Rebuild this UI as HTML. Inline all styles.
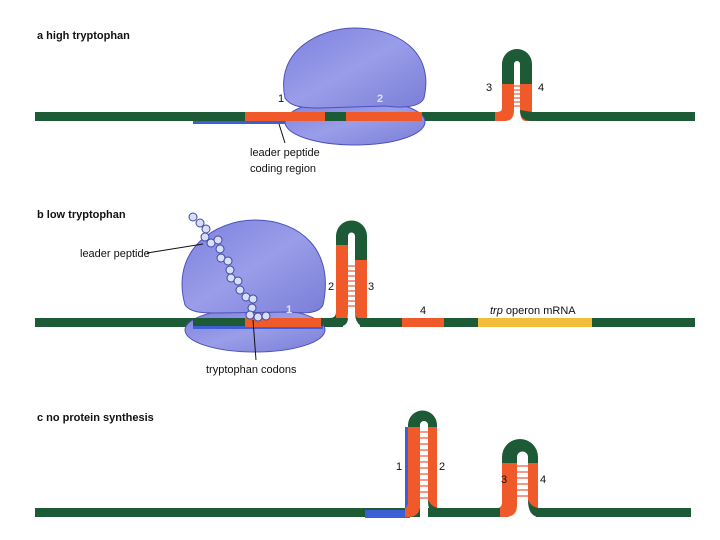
<!DOCTYPE html>
<html><head><meta charset="utf-8"><style>
body{margin:0;background:#fff}
svg{display:block}
text{font-family:"Liberation Sans",sans-serif;font-size:11px;fill:#111}
.h{font-weight:bold;font-size:11px}
</style></head><body>
<svg width="720" height="540" viewBox="0 0 720 540">
<defs>
<linearGradient id="rb" x1="0" y1="0" x2="1" y2="1">
<stop offset="0" stop-color="#7c80df"/><stop offset="0.5" stop-color="#9a9de8"/><stop offset="1" stop-color="#7a7ed8"/>
</linearGradient>
</defs>
<!-- Panel a -->
<text x="37" y="39" class="h">a  high tryptophan</text>
<rect x="193" y="116" width="133" height="8" fill="#3c5fd6"/>
<rect x="35" y="112" width="470" height="9" fill="#1d5a36"/>
<rect x="532" y="112" width="163" height="9" fill="#1d5a36"/>
<ellipse cx="355" cy="122" rx="70" ry="23" fill="url(#rb)" stroke="#4e52b8" stroke-width="1"/>
<path d="M285 98 C275 50 320 28 355 28 C395 28 435 50 424 98 C420 108 400 108 385 106 L320 108 C300 108 290 106 285 98Z" fill="url(#rb)" stroke="#4e52b8" stroke-width="1"/>
<rect x="245" y="112" width="80" height="9" fill="#f05a2a"/>
<rect x="346" y="112" width="76" height="9" fill="#f05a2a"/>
<rect x="325" y="112" width="21" height="9" fill="#1d5a36"/>
<!-- hairpin 3-4 -->
<path d="M495 121 L505 121 Q514 121 514 110 L514 84 L502 84 L502 108 Q502 112 497 112 L495 112Z" fill="#f05a2a"/>
<path d="M532 121 L526 121 Q520 121 520 110 L520 84 L532 84Z" fill="#f05a2a"/>
<path d="M520 110 Q520 121 532 121 L532 112 Q532 112 532 112Z" fill="#1d5a36"/>
<path d="M502 84 L502 64 A15 15 0 0 1 532 64 L532 84 L520 84 L520 64 A3 3 0 0 0 514 64 L514 84Z" fill="#1d5a36"/>
<g stroke="#e8583a" stroke-width="1.2"><line x1="514" y1="86" x2="520" y2="86"/><line x1="514" y1="90" x2="520" y2="90"/><line x1="514" y1="94" x2="520" y2="94"/><line x1="514" y1="98" x2="520" y2="98"/><line x1="514" y1="102" x2="520" y2="102"/><line x1="514" y1="106" x2="520" y2="106"/></g>
<text x="278" y="102">1</text>
<text x="377" y="102" style="fill:#dfe0ff;font-weight:bold">2</text>
<text x="486" y="91">3</text>
<text x="538" y="91">4</text>
<line x1="279" y1="124" x2="285" y2="143" stroke="#111" stroke-width="1"/>
<text x="250" y="156">leader peptide</text>
<text x="250" y="172">coding region</text>

<!-- Panel b -->
<text x="37" y="218" class="h">b  low tryptophan</text>
<rect x="35" y="318" width="308" height="9" fill="#1d5a36"/>
<rect x="360" y="318" width="335" height="9" fill="#1d5a36"/>
<ellipse cx="255" cy="330" rx="70" ry="22" fill="url(#rb)" stroke="#4e52b8" stroke-width="1"/>
<path d="M185 305 C170 250 215 220 255 220 C300 220 335 250 323 305 C318 315 300 313 290 312 L215 313 C200 313 190 312 185 305Z" fill="url(#rb)" stroke="#4e52b8" stroke-width="1"/>
<rect x="193" y="318" width="130" height="9" fill="#1d5a36"/>
<rect x="193" y="326" width="130" height="3" fill="#3c5fd6"/>
<rect x="245" y="318" width="76" height="9" fill="#f05a2a"/>
<text x="286" y="313" style="fill:#dfe0ff;font-weight:bold">1</text>
<!-- hairpin 2-3 -->
<path d="M336 245 L348 245 L348 312 Q348 327 336 327 L330 327 L330 318 Q336 318 336 312Z" fill="#f05a2a"/>
<path d="M330 318 Q336 318 336 312 L336 318 L348 318 Q348 327 336 327 L330 327Z" fill="#1d5a36"/>
<path d="M355 260 L367 260 L367 318 L360 318 Q355 318 355 312Z" fill="#f05a2a"/>
<path d="M355 312 Q355 327 367 327 L372 327 L372 318 L367 318 Q360 318 360 318 Q355 318 355 312Z" fill="#1d5a36"/>
<path d="M336 245 L336 236 A15 15 0 0 1 367 236 L367 260 L355 260 L355 236 A3 3 0 0 0 348 236 L348 245Z" fill="#1d5a36"/>
<g stroke="#e8583a" stroke-width="1.2"><line x1="348" y1="266" x2="355" y2="266"/><line x1="348" y1="271" x2="355" y2="271"/><line x1="348" y1="276" x2="355" y2="276"/><line x1="348" y1="281" x2="355" y2="281"/><line x1="348" y1="286" x2="355" y2="286"/><line x1="348" y1="291" x2="355" y2="291"/><line x1="348" y1="296" x2="355" y2="296"/><line x1="348" y1="301" x2="355" y2="301"/><line x1="348" y1="306" x2="355" y2="306"/></g>
<text x="328" y="290">2</text>
<text x="368" y="290">3</text>
<rect x="402" y="318" width="42" height="9" fill="#f05a2a"/>
<text x="420" y="314">4</text>
<rect x="478" y="318" width="114" height="9" fill="#f2bd3a"/>
<text x="490" y="314"><tspan font-style="italic">trp</tspan> operon mRNA</text>
<!-- beads -->
<g fill="#d8def8" stroke="#3f4aa0" stroke-width="1">
<circle cx="193" cy="217" r="4"/><circle cx="200" cy="223" r="4"/><circle cx="206" cy="229" r="4"/><circle cx="205" cy="237" r="4"/><circle cx="211" cy="243" r="4"/><circle cx="218" cy="240" r="4"/><circle cx="220" cy="249" r="4"/><circle cx="221" cy="258" r="4"/><circle cx="228" cy="261" r="4"/><circle cx="230" cy="270" r="4"/><circle cx="231" cy="278" r="4"/><circle cx="238" cy="281" r="4"/><circle cx="240" cy="290" r="4"/><circle cx="246" cy="297" r="4"/><circle cx="253" cy="299" r="4"/><circle cx="252" cy="308" r="4"/><circle cx="250" cy="315" r="4"/><circle cx="258" cy="317" r="4"/><circle cx="266" cy="316" r="4"/>
</g>
<line x1="147" y1="253" x2="203" y2="244" stroke="#111" stroke-width="1"/>
<text x="80" y="257">leader peptide</text>
<line x1="253" y1="320" x2="256" y2="360" stroke="#111" stroke-width="1"/>
<text x="206" y="373">tryptophan codons</text>

<!-- Panel c -->
<text x="37" y="421" class="h">c  no protein synthesis</text>
<rect x="35" y="508" width="385" height="9" fill="#1d5a36"/>
<rect x="428" y="508" width="80" height="9" fill="#1d5a36"/>
<rect x="536" y="508" width="155" height="9" fill="#1d5a36"/>
<rect x="365" y="510" width="45" height="8" fill="#3c5fd6"/>
<rect x="405" y="427" width="4" height="85" fill="#3c5fd6"/>
<path d="M408 427 L420 427 L420 505 Q420 517 408 517 L405 517 L405 508 Q408 508 408 500Z" fill="#f05a2a"/>
<path d="M428 427 L437 427 L437 508 Q428 508 428 500Z" fill="#f05a2a"/>
<path d="M428 500 Q428 517 440 517 L440 508 Q432 508 428 500Z" fill="#1d5a36"/>
<path d="M408 427 L408 425 A14.5 14.5 0 0 1 437 425 L437 427 L428 427 L428 425 A4 4 0 0 0 420 425 L420 427Z" fill="#1d5a36"/>
<g stroke="#e8583a" stroke-width="1.2"><line x1="420" y1="432" x2="428" y2="432"/><line x1="420" y1="438" x2="428" y2="438"/><line x1="420" y1="444" x2="428" y2="444"/><line x1="420" y1="450" x2="428" y2="450"/><line x1="420" y1="456" x2="428" y2="456"/><line x1="420" y1="462" x2="428" y2="462"/><line x1="420" y1="468" x2="428" y2="468"/><line x1="420" y1="474" x2="428" y2="474"/><line x1="420" y1="480" x2="428" y2="480"/><line x1="420" y1="486" x2="428" y2="486"/><line x1="420" y1="492" x2="428" y2="492"/><line x1="420" y1="498" x2="428" y2="498"/></g>
<text x="396" y="470">1</text>
<text x="439" y="470">2</text>
<!-- hairpin 3-4 c -->
<path d="M500 517 L505 517 Q517 517 517 505 L517 463 L502 463 L502 502 Q502 508 497 508 L500 508Z" fill="#f05a2a"/>
<path d="M528 463 L538 463 L538 508 Q528 508 528 500Z" fill="#f05a2a"/>
<path d="M528 500 Q528 517 540 517 L540 508 Q532 508 528 500Z" fill="#1d5a36"/>
<path d="M502 463 L502 457 A18 18 0 0 1 538 457 L538 463 L528 463 L528 457 A5.5 5.5 0 0 0 517 457 L517 463Z" fill="#1d5a36"/>
<g stroke="#e8583a" stroke-width="1.2"><line x1="517" y1="466" x2="528" y2="466"/><line x1="517" y1="472" x2="528" y2="472"/><line x1="517" y1="478" x2="528" y2="478"/><line x1="517" y1="484" x2="528" y2="484"/><line x1="517" y1="490" x2="528" y2="490"/><line x1="517" y1="496" x2="528" y2="496"/></g>
<text x="501" y="483">3</text>
<text x="540" y="483">4</text>
</svg>
</body></html>
